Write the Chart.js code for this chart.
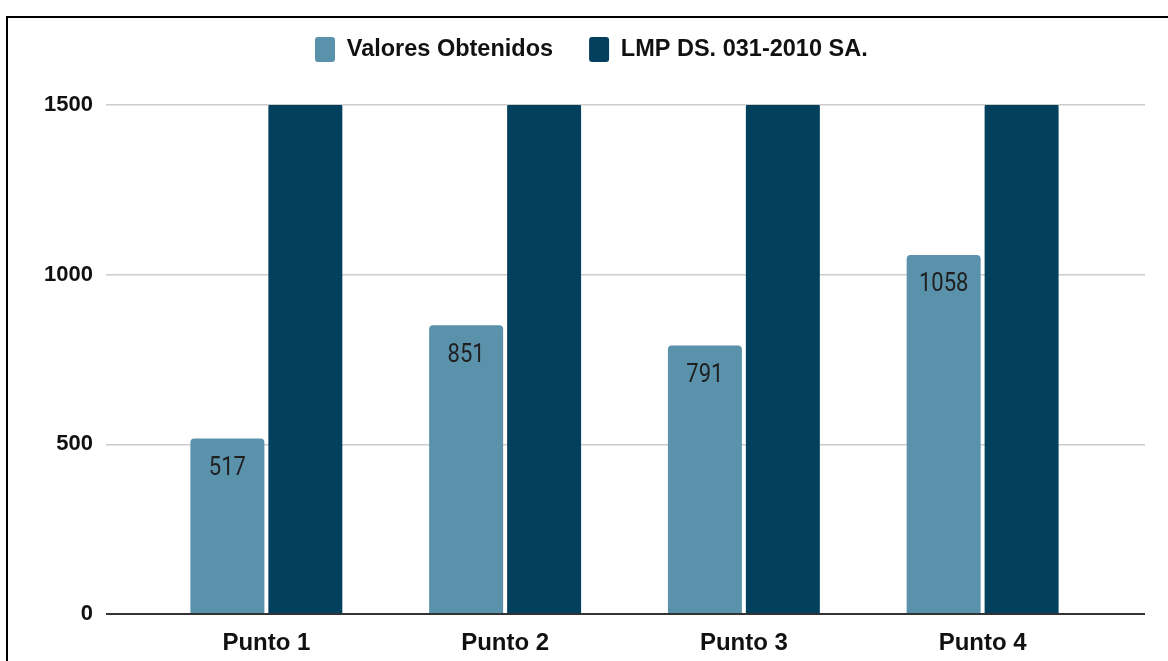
<!DOCTYPE html>
<html>
<head>
<meta charset="utf-8">
<script src="https://cdn.jsdelivr.net/npm/chart.js@4/dist/chart.umd.min.js"></script>
<style>
  html, body { margin: 0; padding: 0; background: #fff; }
  #frame { position: absolute; left: 6px; top: 16px; width: 1200px; height: 700px;
           border-left: 2px solid #000; border-top: 2px solid #000; }
  #chart { position: absolute; left: 0; top: 0; }
</style>
</head>
<body>
<div id="frame"></div>
<canvas id="chart" width="1168" height="661"></canvas>
<script>
let puntos = ['Punto 1', 'Punto 2', 'Punto 3', 'Punto 4'];
let valores = [517, 851, 791, 1058];
let lmp = [1500, 1500, 1500, 1500];
let yTicks = [0, 500, 1000, 1500];

let gridColor = function (c) {
	return c.tick && c.tick.value === 0 ? '#333333' : '#cccccc';
};
let gridWidth = function (c) {
	return c.tick && c.tick.value === 0 ? 2 : 1.5;
};

// numbers inside the light bars
let barLabels = {
	id: 'barLabels',
	afterDatasetsDraw(chart) {
		let ctx = chart.ctx;
		let meta = chart.getDatasetMeta(0);
		ctx.save();
		ctx.font = '22px Roboto';
		ctx.fillStyle = '#1f1f1f';
		ctx.textAlign = 'center';
		ctx.textBaseline = 'middle';
		meta.data.forEach(function (bar, i) {
			ctx.save();
			ctx.translate(bar.x, bar.y + 30);
			ctx.scale(1, 1.15);
			ctx.fillText(String(valores[i]), 0, 0);
			ctx.restore();
		});
		ctx.restore();
	}
};

// move legend over to where the original sits
let legendShift = {
	id: 'legendShift',
	afterLayout(chart) {
		chart.legend.left += 279;
		chart.legend.right += 279;
	}
};

let chart = new Chart(document.getElementById('chart'), {
	type: 'bar',
	data: {
		labels: puntos,
		datasets: [{
			label: 'Valores Obtenidos',
			data: valores,
			backgroundColor: '#5a91ab',
			borderRadius: { topLeft: 4, topRight: 4 },
			borderSkipped: 'bottom'
		}, {
			label: 'LMP DS. 031-2010 SA.',
			data: lmp,
			backgroundColor: '#03405d',
			borderRadius: { topLeft: 1, topRight: 1 },
			borderSkipped: 'bottom'
		}]
	},
	plugins: [barLabels, legendShift],
	options: {
		responsive: false,
		animation: false,
		layout: { padding: { top: 1, left: 0, right: 0, bottom: 0 } },
		datasets: {
			bar: { categoryPercentage: 0.653, barPercentage: 0.949 }
		},
		plugins: {
			tooltip: { enabled: false },
			legend: {
				position: 'top',
				align: 'start',
				weight: 3000,
				labels: {
					boxWidth: 20,
					boxHeight: 25,
					padding: 36,
					useBorderRadius: true,
					borderRadius: 3,
					color: '#111',
					font: { family: 'Liberation Sans', size: 23.5, weight: 'bold' }
				}
			},
			title: {
				display: true,
				text: ' ',
				padding: 0,
				font: { size: 33, lineHeight: 1 }
			}
		},
		scales: {
			x: {
				grid: { display: false, drawTicks: false },
				border: { display: false },
				ticks: {
					color: '#111',
					padding: 15,
					font: { family: 'Liberation Sans', size: 24, weight: 'bold' }
				},
				afterFit(s) { s.height = 47; }
			},
			y: {
				position: 'left',
				min: 0,
				max: 1500,
				afterBuildTicks(s) { s.ticks = yTicks.map(v => ({ value: v })); },
				grid: { color: gridColor, lineWidth: gridWidth, tickLength: 41 },
				border: { display: false },
				ticks: {
					color: '#111',
					padding: 13,
					callback: v => String(v),
					font: { family: 'Liberation Sans', size: 22, weight: 'bold' }
				},
				afterFit(s) { s.width = 147; }
			},
			y2: {
				position: 'right',
				min: 0,
				max: 1500,
				afterBuildTicks(s) { s.ticks = yTicks.map(v => ({ value: v })); },
				grid: { color: gridColor, lineWidth: gridWidth, tickLength: 43, drawOnChartArea: false },
				border: { display: false },
				ticks: { display: false },
				afterFit(s) { s.width = 66; }
			}
		}
	}
});
</script>
</body>
</html>
